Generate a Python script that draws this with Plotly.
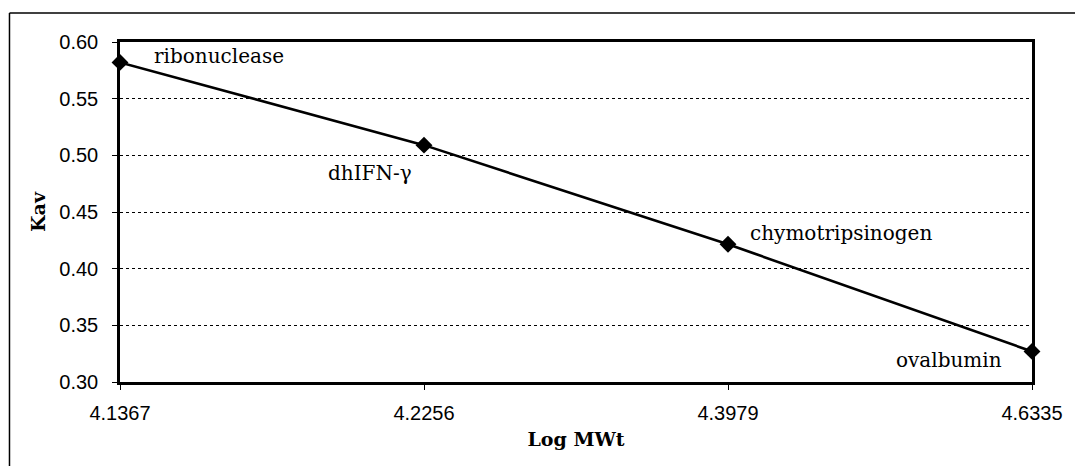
import plotly.graph_objects as go

# Calibration standards: log molecular weight vs. partition coefficient
log_mwt = ["4.1367", "4.2256", "4.3979", "4.6335"]
kav = [0.582, 0.509, 0.4215, 0.327]
proteins = ["ribonuclease", "dhIFN-\u03b3", "chymotripsinogen", "ovalbumin"]

W, H = 1075, 466
ML, MR, MT, MB = 120, 39, 42, 84

SERIF = "DejaVu Serif, Liberation Serif, serif"
SANS = "Liberation Sans, Arial, sans-serif"

fig = go.Figure()
fig.add_trace(go.Scatter(
    x=log_mwt, y=kav, mode="lines+markers",
    line=dict(color="black", width=2.6),
    marker=dict(symbol="diamond", size=13, color="black"),
    showlegend=False, cliponaxis=False,
))

# point labels placed next to each standard (x given as category index)
label_pos = [
    dict(xanchor="left", yanchor="middle", xshift=32, yshift=6),
    dict(xanchor="center", yanchor="middle", xshift=-54, yshift=-28),
    dict(xanchor="left", yanchor="middle", xshift=20, yshift=11),
    dict(xanchor="right", yanchor="middle", xshift=-28, yshift=-9),
]
for i, (yv, name, pos) in enumerate(zip(kav, proteins, label_pos)):
    fig.add_annotation(x=i, y=yv, xref="x", yref="y", text=name, showarrow=False,
                       font=dict(family=SERIF, size=20, color="black"), **pos)

# outer chart frame (top and left edges)
pw, ph = W - ML - MR, H - MT - MB
def px_x(p):
    return (p - ML) / pw
def px_y(p):
    return (H - MB - p) / ph
fig.add_shape(type="line", xref="paper", yref="paper",
              x0=px_x(9), x1=px_x(W + 5), y0=px_y(13), y1=px_y(13),
              line=dict(color="black", width=1.5))
fig.add_shape(type="line", xref="paper", yref="paper",
              x0=px_x(9), x1=px_x(9), y0=px_y(13), y1=px_y(H + 5),
              line=dict(color="black", width=1.5))

fig.update_layout(
    width=W, height=H,
    margin=dict(l=ML, r=MR, t=MT, b=MB),
    paper_bgcolor="white", plot_bgcolor="white",
    font=dict(family=SERIF, color="black"),
    xaxis=dict(
        type="category", range=[0, 3],
        showline=True, linecolor="black", linewidth=2.5, mirror=True,
        ticks="outside", ticklen=5, tickcolor="black", tickwidth=1,
        ticklabelstandoff=6,
        showgrid=False, zeroline=False,
        tickfont=dict(family=SANS, size=20),
        title=dict(text="<b>Log MWt</b>", font=dict(family=SERIF, size=19), standoff=10),
    ),
    yaxis=dict(
        range=[0.30, 0.60], dtick=0.05, tickformat=".2f",
        showline=True, linecolor="black", linewidth=2.5, mirror=True,
        ticks="outside", ticklen=5, tickcolor="black", tickwidth=1,
        ticklabelstandoff=10,
        showgrid=True, gridcolor="black", gridwidth=1, griddash="dot",
        zeroline=False,
        tickfont=dict(family=SANS, size=20),
        title=dict(text="<b>Kav</b>", font=dict(family=SERIF, size=19), standoff=9),
    ),
)

fig.write_html("out.html")
